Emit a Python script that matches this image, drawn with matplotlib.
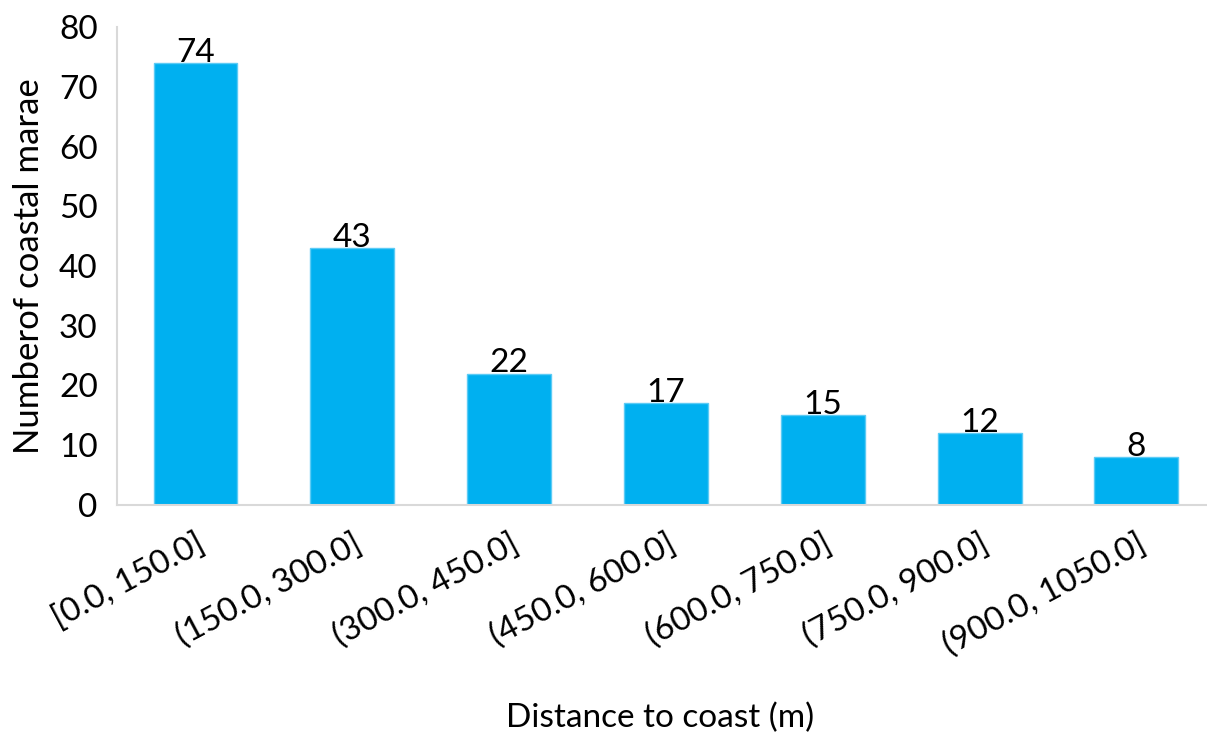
import numpy as np
import matplotlib.pyplot as plt

plt.rcParams['font.family'] = ['Lato', 'DejaVu Sans']

bins = ['[0.0, 150.0]', '(150.0, 300.0]', '(300.0, 450.0]', '(450.0, 600.0]',
        '(600.0, 750.0]', '(750.0, 900.0]', '(900.0, 1050.0]']
counts = [74, 43, 22, 17, 15, 12, 8]

fig = plt.figure(figsize=(12.07, 7.37), dpi=100)
ax = fig.add_axes([0.097, 0.315, 0.903, 0.648])

x = np.arange(len(bins))
bars = ax.bar(x, counts, width=0.535, color='#00B0F0', edgecolor='#5CCBF5', linewidth=1, zorder=2)

for xi, c in zip(x, counts):
    ax.annotate(str(c), (xi, c), xytext=(0, 1), textcoords='offset points',
                ha='center', va='baseline', fontsize=24, color='black')

ax.set_xlim(-0.5, 6.45)
ax.set_ylim(0, 80)
ax.set_yticks(np.arange(0, 81, 10))
ax.set_xticks(x)
ax.set_xticklabels(bins, rotation=28, ha='right', rotation_mode='anchor')
ax.tick_params(axis='both', length=0, labelsize=24)
ax.tick_params(axis='x', pad=17)
ax.tick_params(axis='y', pad=14)

for side in ['top', 'right']:
    ax.spines[side].set_visible(False)
for side in ['left', 'bottom']:
    ax.spines[side].set_color('#D9D9D9')
    ax.spines[side].set_linewidth(1.5)
    ax.spines[side].set_zorder(3)

ax.set_ylabel('Numberof coastal marae', fontsize=25, labelpad=10)
fig.text(0.547, 0.005, 'Distance to coast (m)', fontsize=24, ha='center', va='bottom')

plt.savefig('out.png', dpi=100)
